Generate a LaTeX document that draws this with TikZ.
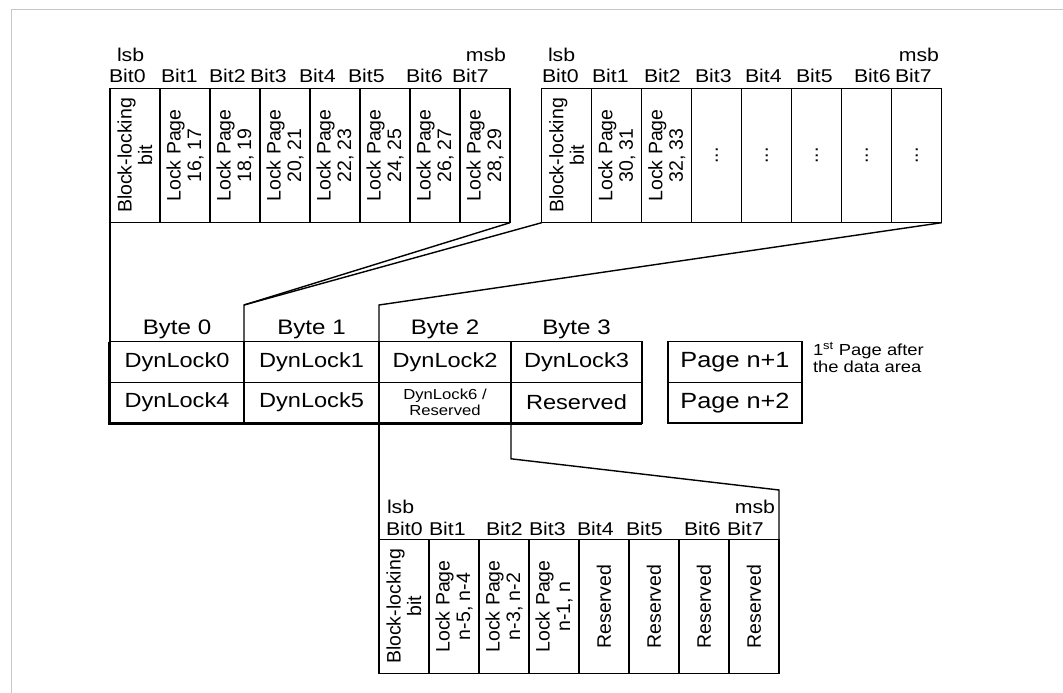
\documentclass[tikz,border=0pt]{standalone}
\usepackage{fontspec}
\setmainfont{Liberation Sans}
\usepackage{graphicx}
\newcommand{\hsc}[1]{\scalebox{1.15}[1]{#1}}
\begin{document}
\begin{tikzpicture}[x=1pt,y=-1pt,
  every node/.style={inner sep=0pt, outer sep=0pt},
  ln/.style={line width=1.4pt, black},
  cell/.style={draw, line width=1.4pt, minimum width=50pt, minimum height=134.4pt, anchor=north west},
  rot/.style={rotate=90, align=center, font=\fontsize{19.5}{20.5}\selectfont},
  bitlbl/.style={anchor=base west, font=\fontsize{18.5}{20}\selectfont},
  tcell/.style={draw, line width=1.4pt, minimum height=40.6pt, anchor=north west, font=\fontsize{20.5}{22}\selectfont},
  hdr/.style={anchor=base, font=\fontsize{21}{23}\selectfont}
]
\useasboundingbox (0,0) rectangle (1063,693);
\fill[white] (0,0) rectangle (1063,693);
% frame
\draw[black!22, line width=1.2pt] (11.3,693) -- (11.3,9.3) -- (1063,9.3);

% ---------- register 1 ----------
\foreach \i/\t in {0/{Block-locking\\bit},1/{Lock Page\\16, 17},2/{Lock Page\\18, 19},3/{Lock Page\\20, 21},4/{Lock Page\\22, 23},5/{Lock Page\\24, 25},6/{Lock Page\\26, 27},7/{Lock Page\\28, 29}}{
  \node[cell] (r1c\i) at ({110+50*\i},88.3) {};
  \node[rot] at (r1c\i.center) {\t};
}
\node[bitlbl] (r1lsb) at (117,62) {\hsc{lsb}};
\node[anchor=base east, font=\fontsize{18.5}{20}\selectfont] (r1msb) at (506,62) {\hsc{msb}};
\foreach \i/\x in {0/109,1/161,2/209,3/250,4/299,5/348,6/406,7/452}{
  \node[bitlbl] (r1b\i) at (\x,83) {\hsc{Bit\i}};
}

% ---------- register 2 ----------
\foreach \i/\t in {0/{Block-locking\\bit},1/{Lock Page\\30, 31},2/{Lock Page\\32, 33},3/{...},4/{...},5/{...},6/{...},7/{...}}{
  \node[cell] (r2c\i) at ({541.7+50*\i},88.3) {};
  \node[rot] at (r2c\i.center) {\t};
}
\node[bitlbl] (r2lsb) at (548,62) {\hsc{lsb}};
\node[anchor=base east, font=\fontsize{18.5}{20}\selectfont] (r2msb) at (939,62) {\hsc{msb}};
\foreach \i/\x in {0/542,1/592,2/644,3/695,4/745,5/796,6/854,7/895}{
  \node[bitlbl] (r2b\i) at (\x,83) {\hsc{Bit\i}};
}

% ---------- table ----------
\node[hdr] (h0) at (177,334) {\hsc{Byte 0}};
\node[hdr] (h1) at (311.5,334) {\hsc{Byte 1}};
\node[hdr] (h2) at (445,334) {\hsc{Byte 2}};
\node[hdr] (h3) at (576.5,334) {\hsc{Byte 3}};

\node[tcell, minimum width=134pt] (t00) at (110,341.7) {\hsc{DynLock0}};
\node[tcell, minimum width=135pt] (t01) at (244,341.7) {\hsc{DynLock1}};
\node[tcell, minimum width=132pt] (t02) at (379,341.7) {\hsc{DynLock2}};
\node[tcell, minimum width=131pt] (t03) at (511,341.7) {\hsc{DynLock3}};
\node[tcell, minimum width=134pt] (t10) at (110,382.3) {\hsc{DynLock4}};
\node[tcell, minimum width=135pt] (t11) at (244,382.3) {\hsc{DynLock5}};
\node[tcell, minimum width=132pt, align=center, font=\fontsize{14.5}{16}\selectfont] (t12) at (379,382.3) {\hsc{DynLock6 /}\\\hsc{Reserved}};
\node[tcell, minimum width=131pt] (t13) at (511,382.3) {\hsc{Reserved}};
% heavier outer edge (left and bottom)
\draw[ln, line width=1pt] ([xshift=-1.6pt]t00.north west) -- ([xshift=-1.6pt,yshift=-1.6pt]t10.south west) -- ([yshift=-1.6pt]t13.south east);

% ---------- pages ----------
\node[tcell, minimum width=134pt, font=\fontsize{22}{24}\selectfont] (p1) at (668,341.7) {\hsc{Page n+1}};
\node[tcell, minimum width=134pt, font=\fontsize{22}{24}\selectfont] (p2) at (668,382.3) {\hsc{Page n+2}};
\node[anchor=north west, align=left, font=\fontsize{16}{17}\selectfont] (note) at (813,342) {\hsc{1\textsuperscript{st} Page after}\\\hsc{the data area}};

% ---------- register 3 ----------
\foreach \i/\t in {0/{Block-locking\\bit},1/{Lock Page\\n-5, n-4},2/{Lock Page\\n-3, n-2},3/{Lock Page\\n-1, n},4/{Reserved},5/{Reserved},6/{Reserved},7/{Reserved}}{
  \node[cell] (r3c\i) at ({379+50*\i},539.3) {};
  \node[rot] at (r3c\i.center) {\t};
}
\node[bitlbl] (r3lsb) at (387,513) {\hsc{lsb}};
\node[anchor=base east, font=\fontsize{18.5}{20}\selectfont] (r3msb) at (775,513) {\hsc{msb}};
\foreach \i/\x in {0/386,1/429,2/486,3/529,4/577,5/626,6/684,7/727}{
  \node[bitlbl] (r3b\i) at (\x,535) {\hsc{Bit\i}};
}

% ---------- connectors ----------
\coordinate (b01) at (244,305);
\coordinate (b12) at (379,305);
\coordinate (k3) at (511,458.8);
\coordinate (k3r) at (779,490);
\draw[ln] (r1c0.south west) -- (t00.north west);
\draw[ln] (r1c7.south east) -- (b01) -- (t01.north west);
\draw[ln] (r2c0.south west) -- (b01);
\draw[ln] (r2c7.south east) -- (b12) -- (t02.north west);
\draw[ln] (t12.south west) -- (r3c0.north west);
\draw[ln] (t13.south west) -- (k3) -- (k3r) -- (r3c7.north east);
\end{tikzpicture}
\end{document}
